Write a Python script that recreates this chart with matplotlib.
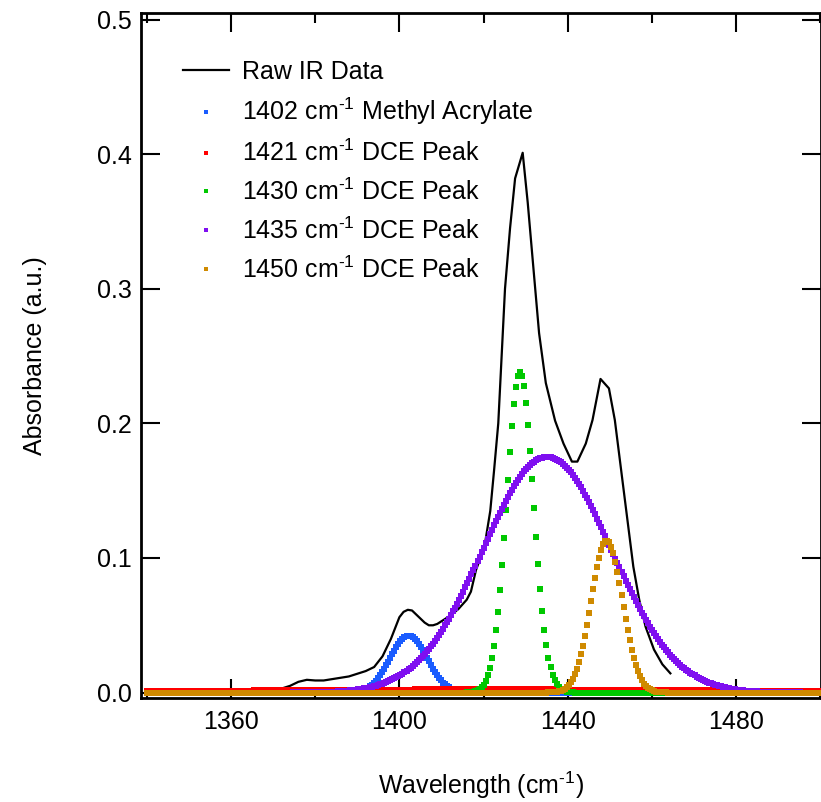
"""Raw IR spectrum with Gaussian peak-fit components (1340-1500 cm-1)."""
import numpy as np
import matplotlib
matplotlib.use("Agg")
import matplotlib.pyplot as plt
from matplotlib.ticker import MultipleLocator

plt.rcParams["font.family"] = ["Liberation Sans", "DejaVu Sans"]
plt.rcParams["mathtext.fontset"] = "custom"
plt.rcParams["mathtext.rm"] = "Liberation Sans"
plt.rcParams["mathtext.default"] = "regular"

# raw spectrum
raw_wn = [1340, 1350, 1360, 1366, 1370, 1372, 1374, 1376, 1378, 1380, 1382, 1384,
          1386, 1388, 1390, 1392, 1394, 1396, 1398, 1400, 1401, 1402, 1403, 1404,
          1405, 1406, 1407, 1408, 1409, 1410, 1412, 1414, 1416, 1417, 1418.2, 1420.2,
          1421.6, 1422.5, 1423.5, 1425.1, 1426.3, 1427.5, 1429.3, 1430.5, 1432.0,
          1433.2, 1434.8, 1437.0, 1439.0, 1441.0, 1442.3, 1444.3, 1445.9, 1447.8,
          1449.8, 1451.2, 1453.6, 1455.6, 1457.0, 1458.5, 1460.5, 1462.5, 1464.4]
raw_abs = [0.001, 0.001, 0.001, 0.0015, 0.0025, 0.003, 0.005, 0.008, 0.0095, 0.009,
           0.009, 0.010, 0.011, 0.012, 0.014, 0.016, 0.019, 0.027, 0.040, 0.056,
           0.060, 0.0615, 0.061, 0.058, 0.055, 0.052, 0.050, 0.050, 0.051, 0.053,
           0.057, 0.062, 0.069, 0.075, 0.091, 0.108, 0.135, 0.165, 0.200,
           0.300, 0.345, 0.382, 0.401, 0.364, 0.31, 0.267, 0.23, 0.202, 0.185, 0.1716,
           0.1716, 0.185, 0.2025, 0.233, 0.226, 0.2025, 0.143, 0.0935, 0.069, 0.049,
           0.032, 0.021, 0.0143]

# fitted peak components: centre, height, gaussian width (cm-1)
peak_labels = ["1402 cm$^{\\text{-}1}$ Methyl Acrylate", "1421 cm$^{\\text{-}1}$ DCE Peak",
               "1430 cm$^{\\text{-}1}$ DCE Peak", "1435 cm$^{\\text{-}1}$ DCE Peak",
               "1450 cm$^{\\text{-}1}$ DCE Peak"]
peak_center = [1402.2, 1421.0, 1428.7, 1435.1, 1449.3]
peak_height = [0.042, 0.0024, 0.238, 0.175, 0.113]
peak_width = [4.4, 60.0, 3.2, 15.3, 3.7]
peak_colors = ["#1a5cff", "#ff0000", "#00c800", "#7f0ff0", "#cf8a00"]

wn = np.arange(1340.0, 1500.0, 0.482)

fig = plt.figure(figsize=(8.21, 8.02), dpi=100)
ax = fig.add_axes([0.1723, 0.1297, 0.8277, 0.8535])

ax.plot(raw_wn, raw_abs, color="black", lw=1.6, label="Raw IR Data", zorder=2)
for lab, c, h, w, col in zip(peak_labels, peak_center, peak_height, peak_width, peak_colors):
    y = h * np.exp(-((wn - c) ** 2) / (2 * w ** 2))
    ax.plot(wn, y, ls="none", marker="s", ms=3.7, mew=0, color=col, label=lab, zorder=3)

ax.set_xlim(1338.7, 1500.2)
ax.set_ylim(-0.004, 0.5045)
ax.xaxis.set_major_locator(MultipleLocator(40))
ax.xaxis.set_minor_locator(MultipleLocator(20))
ax.yaxis.set_major_locator(MultipleLocator(0.1))
ax.yaxis.set_major_formatter(plt.FormatStrFormatter("%.1f"))

for s in ax.spines.values():
    s.set_linewidth(2)
ax.tick_params(which="both", direction="in", top=True, right=True, width=1.5,
               labelsize=18)
ax.tick_params(which="major", length=13.5)
ax.tick_params(which="minor", length=7)
ax.tick_params(axis="x", pad=8.5)
ax.tick_params(axis="y", pad=7)

ax.set_xlabel("Wavelength (cm$^{\\text{-}1}$)", fontsize=18, labelpad=26)
ax.set_ylabel("Absorbance (a.u.)", fontsize=18)
ax.yaxis.set_label_coords(-0.139, 0.5)

ax.legend(loc="upper left", bbox_to_anchor=(0.061, 0.9327), frameon=False, fontsize=18,
          handlelength=1.84, handletextpad=0.52, labelspacing=0.5, borderpad=0,
          borderaxespad=0, markerscale=0.9)

fig.savefig("out.png", dpi=100)
